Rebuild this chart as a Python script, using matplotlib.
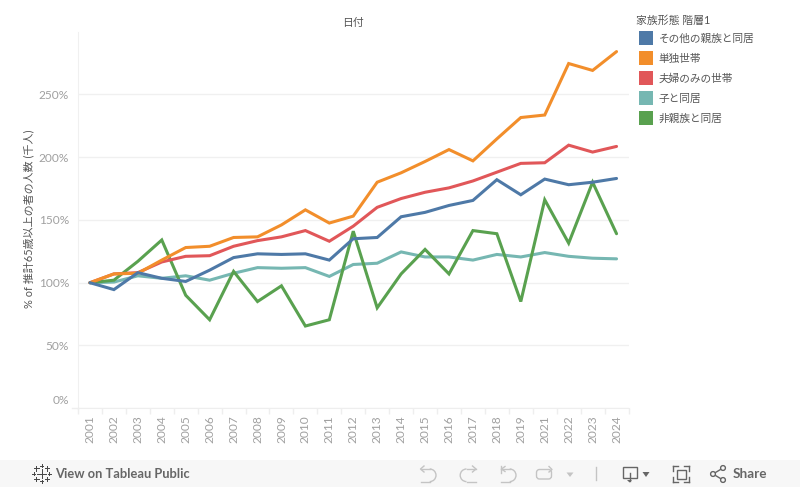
import matplotlib
matplotlib.use('Agg')
import matplotlib.pyplot as plt
from matplotlib.patches import Rectangle, Arc, Circle, Polygon, FancyBboxPatch

plt.rcParams['font.family'] = ['Lato', 'Noto Sans CJK JP', 'DejaVu Sans']

years = ['2001', '2002', '2003', '2004', '2005', '2006', '2007', '2008', '2009', '2010', '2011', '2012',
         '2013', '2014', '2015', '2016', '2017', '2018', '2019', '2021', '2022', '2023', '2024']

other_kin = [100, 94.5, 108, 103.5, 101, 110, 120, 123, 122.5, 123, 118, 135,
             136, 152.5, 156, 161.5, 165.5, 182, 170, 182.5, 178, 180, 183]
single = [100, 107, 107.5, 118, 128, 129, 136, 136.5, 146, 158, 147.5, 153,
          180, 187.5, 196.5, 206, 197, 214.5, 231.5, 233.5, 274.5, 269, 284]
couple = [100, 107, 108, 116.5, 121, 121.5, 129, 133.5, 136.5, 141.5, 133, 145,
          160, 167, 172, 175.5, 181, 188, 195, 195.5, 209.5, 204, 208.5]
with_child = [100, 100.5, 105.5, 103.5, 105.5, 102, 107.5, 112, 111.5, 112, 105, 114.5,
              115.5, 124.5, 120.5, 120.5, 118, 122.5, 120.5, 124, 121, 119.5, 119]
non_kin = [100, 102, 117, 134, 90, 70.5, 109, 85, 97.5, 65.5, 70.5, 141,
           80, 107, 126.5, 107, 141.5, 139, 85, 166, 131.5, 180, 139]

legend_labels = ['その他の親族と同居', '単独世帯', '夫婦のみの世帯', '子と同居', '非親族と同居']
colors = ['#4e79a7', '#f28e2b', '#e15759', '#76b7b2', '#59a14f']
yticks = [0, 50, 100, 150, 200, 250]

W, H = 800, 487
fig = plt.figure(figsize=(W / 100, H / 100), dpi=100, facecolor='white')

# plot area in pixels: x 78-628, y 32-408
ax = fig.add_axes([78 / W, 1 - 408.3 / H, 550.5 / W, 376.3 / H])
x = list(range(len(years)))
series = [other_kin, single, couple, with_child, non_kin]
order = [3, 4, 2, 1, 0]
for z, i in enumerate(order):
    ax.plot(x, series[i], color=colors[i], lw=2.2, solid_joinstyle='miter', solid_capstyle='round', zorder=3 + z)

ax.set_xlim(-0.5, 22.5)
ax.set_ylim(0, 299.6)
ax.set_yticks(yticks)
# the 0% label sits higher than its gridline, it is drawn on the overlay below
ax.set_yticklabels([''] + [f'{v}%' for v in yticks[1:]], fontsize=8.6, color='#a0a0a0')
ax.set_xticks(x)
ax.set_xticklabels(years, rotation=90, fontsize=8.6, color='#a0a0a0')
ax.tick_params(axis='y', length=0, pad=6.5)
ax.tick_params(axis='x', length=0, pad=5)
ax.set_xticks([i - 0.5 for i in x] + [22.5], minor=True)
ax.tick_params(axis='x', which='minor', length=4, color='#eeeeee', width=1)
ax.grid(axis='y', color='#f0f0f0', lw=1)
ax.set_axisbelow(True)
for s in ['top', 'right']:
    ax.spines[s].set_visible(False)
ax.spines['left'].set_color('#f0f0f0')
ax.spines['bottom'].set_color('#eeeeee')
ax.set_ylabel('% of 推計65歳以上の者の人数 (千人)', fontsize=7.9, color='#555555')
ax.yaxis.set_label_coords((34 - 78) / 550.5, 1 - (219 - 32) / 376.3)

# overlay in pixel coordinates for legend and toolbar
ov = fig.add_axes([0, 0, 1, 1], zorder=10)
ov.set_xlim(0, W)
ov.set_ylim(H, 0)
ov.axis('off')
ov.patch.set_alpha(0)

ov.text(69.5, 400, '0%', fontsize=8.6, color='#a0a0a0', ha='right', va='center')
ov.text(352.5, 22.5, '日付', fontsize=7.8, color='#555555', ha='center', va='center')
ov.plot([72, 78], [408.3, 408.3], color='#eeeeee', lw=1)

ov.text(636.5, 20, '家族形態 階層1', fontsize=7.8, color='#555555', va='center')
for i, lab in enumerate(legend_labels):
    ov.add_patch(Rectangle((639, 31 + 20 * i), 14, 14, color=colors[i], lw=0))
    ov.text(658.5, 38.3 + 20 * i, lab, fontsize=7.7, color='#555555', va='center')

# toolbar
ov.add_patch(Rectangle((0, 460), W, 27, color='#f7f7f7', lw=0))
ov.text(55, 474, 'View on Tableau Public', fontsize=9.3, color='#666666', va='center', fontweight='bold',
        family=['Lato', 'DejaVu Sans'])
ov.text(733, 474, 'Share', fontsize=9.7, color='#666666', va='center', fontweight='bold',
        family=['Lato', 'DejaVu Sans'])

# tableau logo
dark = '#444444'
for cx, cy, r in [(41.5, 473.5, 4.5), (33.8, 473.5, 1.5), (49.2, 473.5, 1.5), (41.5, 465.8, 1.5), (41.5, 481.2, 1.5),
                  (36.3, 468.3, 2.2), (46.7, 468.3, 2.2), (36.3, 478.7, 2.2), (46.7, 478.7, 2.2)]:
    ov.plot([cx - r, cx + r], [cy, cy], color=dark, lw=0.7)
    ov.plot([cx, cx], [cy - r, cy + r], color=dark, lw=0.7)

light = '#c4c4c4'
ico = '#666666'
# undo / redo
ov.add_patch(Arc((429.7, 475.3), 12.6, 12.6, theta1=-90, theta2=90, color=light, lw=1))
ov.plot([420.5, 429.7], [469, 469], color=light, lw=1)
ov.plot([429.7, 421], [481.6, 481.6], color=light, lw=1)
ov.plot([424, 420.5, 424], [466, 469, 472], color=light, lw=1)
ov.add_patch(Arc((466.5, 475.3), 12.6, 12.6, theta1=90, theta2=270, color=light, lw=1))
ov.plot([466.5, 476], [469, 469], color=light, lw=1)
ov.plot([466.5, 475.5], [481.6, 481.6], color=light, lw=1)
ov.plot([472.5, 476, 472.5], [466, 469, 472], color=light, lw=1)
# revert
ov.add_patch(Arc((509.7, 475.3), 12.6, 12.6, theta1=-90, theta2=90, color=light, lw=1))
ov.plot([501, 509.7], [469, 469], color=light, lw=1)
ov.plot([509.7, 501], [481.6, 481.6], color=light, lw=1)
ov.plot([500.5, 500.5], [466, 473], color=light, lw=1)
ov.plot([505, 501.5, 505], [466.5, 469, 471.5], color=light, lw=1)
# refresh
ov.add_patch(FancyBboxPatch((538, 471), 12, 6.5, boxstyle='round,pad=1.5,rounding_size=3', fill=False, ec=light, lw=1))
ov.plot([549, 552, 549], [466.5, 469.5, 472], color=light, lw=1)
ov.add_patch(Polygon([[566.5, 472.5], [573.5, 472.5], [570, 477]], color=light, lw=0))
ov.plot([595.5, 595.5], [467, 480], color=light, lw=1)
# download
ov.add_patch(Rectangle((622.5, 467), 14, 10.5, fill=False, ec=ico, lw=1))
ov.plot([629.5, 629.5], [473, 481], color=ico, lw=1)
ov.add_patch(Polygon([[627, 480], [632, 480], [629.5, 482.5]], color=ico, lw=0))
ov.add_patch(Polygon([[642.5, 472], [649.5, 472], [646, 477]], color=ico, lw=0))
# fullscreen
for xa, xb, ya, yb in [(673, 673, 466, 471), (673, 678, 466, 466), (689, 689, 466, 471), (684, 689, 466, 466),
                       (673, 673, 477, 481.5), (673, 678, 481.5, 481.5), (689, 689, 477, 481.5), (684, 689, 481.5, 481.5)]:
    ov.plot([xa, xb], [ya, yb], color=ico, lw=1)
ov.add_patch(Rectangle((676.5, 469.5), 9, 9, fill=False, ec=ico, lw=1))
# share
ov.plot([723, 713, 723], [468, 474, 480], color=ico, lw=1)
for cx, cy in [(723, 468), (713, 474), (723, 480)]:
    ov.add_patch(Circle((cx, cy), 2.4, fc='#f7f7f7', ec=ico, lw=1, zorder=5))

fig.savefig('out.png', dpi=100)
